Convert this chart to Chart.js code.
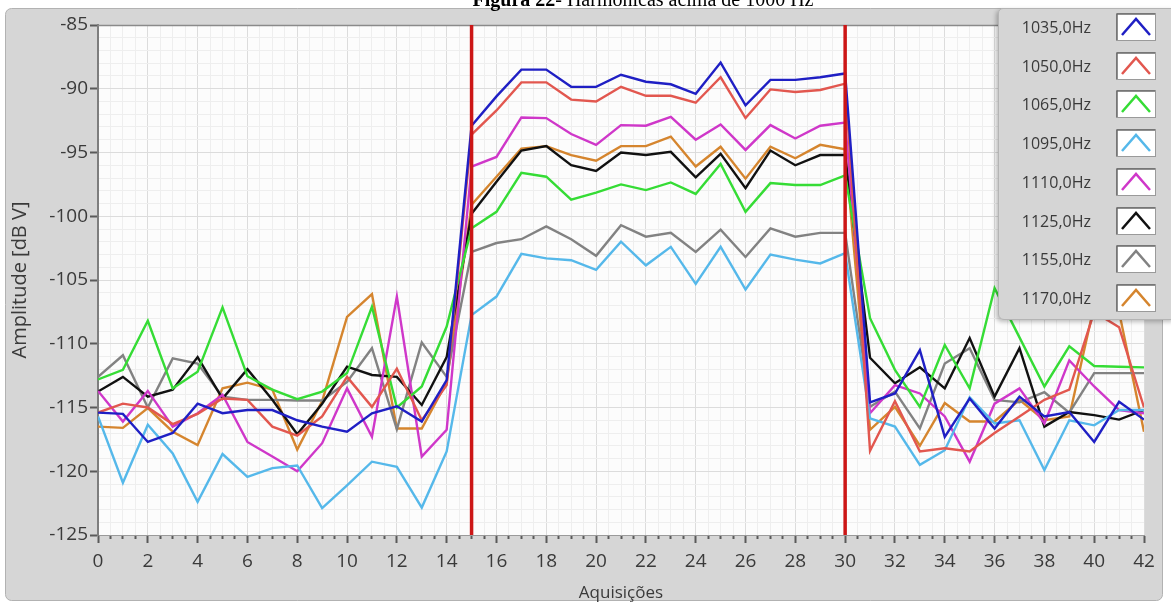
<!DOCTYPE html>
<html>
<head>
<meta charset="utf-8">
<script src="https://cdn.jsdelivr.net/npm/chart.js@4.4.1/dist/chart.umd.min.js"></script>
<style>
html,body{margin:0;padding:0;background:#fff;}
#wrap{position:relative;width:1171px;height:604px;overflow:hidden;}
#chart{position:absolute;left:0;top:0;}
#title{position:absolute;top:-11px;left:0;width:1286px;text-align:center;font-family:'Liberation Serif','Times New Roman',serif;font-size:20px;line-height:20px;color:#000;white-space:nowrap;z-index:3;}
#legend{position:absolute;left:998px;top:8px;width:175px;height:310px;background:#d5d5d5;border:1px solid #b4b4b4;border-radius:5px 0 0 6px;box-shadow:-2px 2px 4px rgba(0,0,0,0.25);z-index:2;}
.item{position:absolute;left:0;width:175px;height:28px;}
.item span{position:absolute;right:83px;top:3px;font-family:'Open Sans',sans-serif;font-size:16px;line-height:22px;color:#3a3a3a;}
.item svg{position:absolute;left:117px;top:0;}
</style>
</head>
<body>
<div id="wrap">
  <canvas id="chart" width="1171" height="604"></canvas>
  <div id="title"><b>Figura 22</b>- Harmônicas acima de 1000 Hz</div>
  <div id="legend"></div>
</div>
<script>
// ---- data ----
const acquisitions = [0,1,2,3,4,5,6,7,8,9,10,11,12,13,14,15,16,17,18,19,20,21,22,23,24,25,26,27,28,29,30,31,32,33,34,35,36,37,38,39,40,41,42];
const seriesNames = ['1035,0Hz','1050,0Hz','1065,0Hz','1095,0Hz','1110,0Hz','1125,0Hz','1155,0Hz','1170,0Hz'];
const seriesColors = ['#1f1fc4','#e2574f','#35dc35','#55b8ea','#cf37c9','#111111','#828282','#d5852e'];

const s1035 = [-115.4,-115.5,-117.7,-117.0,-114.7,-115.45,-115.2,-115.2,-116.0,-116.5,-116.9,-115.45,-114.9,-116.1,-112.85,
  -92.9,-90.6,-88.5,-88.5,-89.85,-89.85,-88.9,-89.45,-89.65,-90.4,-87.95,-91.3,-89.3,-89.3,-89.1,-88.8,
  -114.6,-113.9,-110.5,-117.3,-114.3,-116.65,-114.15,-115.7,-115.35,-117.7,-114.55,-115.95];
const s1050 = [-115.4,-114.7,-115.0,-116.3,-115.5,-114.3,-114.4,-116.5,-117.2,-115.7,-112.6,-114.95,-111.95,-116.0,-113.25,
  -93.6,-91.7,-89.5,-89.5,-90.85,-91.0,-89.85,-90.55,-90.55,-91.1,-89.1,-92.3,-90.05,-90.25,-90.1,-89.6,
  -118.4,-114.5,-118.45,-118.2,-118.45,-117.0,-115.7,-114.4,-113.6,-107.5,-108.7,-115.0];
const s1065 = [-112.8,-112.05,-108.2,-113.5,-112.2,-107.15,-112.55,-113.6,-114.35,-113.75,-112.3,-107.1,-115.0,-113.35,-108.65,
  -100.95,-99.65,-96.6,-96.9,-98.7,-98.15,-97.5,-97.95,-97.35,-98.25,-95.9,-99.65,-97.4,-97.55,-97.55,-96.8,
  -108.0,-112.05,-114.95,-110.1,-113.5,-105.65,-109.5,-113.35,-110.2,-111.75,-111.8,-111.85];
const s1095 = [-115.7,-120.9,-116.35,-118.6,-122.4,-118.65,-120.45,-119.75,-119.55,-122.9,-121.1,-119.25,-119.65,-122.85,-118.45,
  -107.75,-106.3,-102.95,-103.3,-103.45,-104.2,-102.0,-103.85,-102.4,-105.3,-102.4,-105.75,-103.0,-103.4,-103.7,-102.9,
  -115.85,-116.5,-119.5,-118.35,-114.2,-116.25,-116.0,-119.9,-116.0,-116.4,-115.2,-115.2];
const s1110 = [-113.7,-116.1,-113.7,-116.5,-115.45,-114.0,-117.7,-118.85,-120.0,-117.8,-113.5,-117.3,-106.3,-118.85,-116.75,
  -96.1,-95.35,-92.25,-92.3,-93.55,-94.4,-92.85,-92.9,-92.2,-94.0,-92.8,-94.8,-92.85,-93.9,-92.9,-92.65,
  -115.45,-113.25,-113.9,-115.7,-119.25,-114.7,-113.5,-116.25,-111.3,-113.35,-115.2,-115.45];
const s1125 = [-113.75,-112.6,-114.15,-113.6,-111.05,-114.3,-112.0,-114.4,-117.1,-114.7,-111.8,-112.45,-112.6,-114.8,-111.05,
  -99.8,-97.3,-94.85,-94.5,-96.0,-96.45,-95.0,-95.2,-94.95,-96.95,-95.1,-97.8,-94.85,-96.0,-95.2,-95.2,
  -111.1,-113.1,-111.85,-113.5,-109.55,-114.15,-110.35,-116.5,-115.35,-115.6,-115.95,-115.2];
const s1155 = [-112.6,-110.9,-115.0,-111.15,-111.55,-114.15,-114.4,-114.4,-114.45,-114.45,-113.0,-110.35,-116.7,-109.9,-112.6,
  -102.8,-102.1,-101.8,-100.8,-101.8,-103.1,-100.7,-101.6,-101.3,-102.8,-101.05,-103.2,-100.95,-101.6,-101.3,-101.3,
  -114.95,-113.75,-116.65,-111.55,-110.35,-114.4,-114.6,-113.8,-115.4,-112.3,-112.3,-112.3];
const s1170 = [-116.5,-116.6,-115.05,-116.9,-117.95,-113.5,-113.05,-113.6,-118.3,-114.5,-107.9,-106.1,-116.65,-116.65,-113.0,
  -99.1,-96.9,-94.7,-94.5,-95.2,-95.65,-94.5,-94.5,-93.75,-96.1,-94.55,-97.05,-94.55,-95.45,-94.4,-94.75,
  -116.75,-114.95,-118.0,-114.65,-116.1,-116.1,-114.4,-116.0,-115.7,-107.0,-107.5,-116.9];
const seriesValues = [s1035,s1050,s1065,s1095,s1110,s1125,s1155,s1170];

const markerPositions = [15, 30];
const yMin = -125, yMax = -85;
const xMin = 0, xMax = 42;
const xLabelStep = 2, yLabelStep = 5;

// ---- datasets ----
const datasets = [];
markerPositions.forEach(p => {
  datasets.push({
    data: [{x:p, y:yMin}, {x:p, y:yMax}],
    borderColor:'#cc1616', borderWidth:3.5, pointRadius:0, order:-1
  });
});
seriesValues.forEach((vals, i) => {
  datasets.push({
    label: seriesNames[i],
    data: acquisitions.map((a, k) => ({x:a, y:vals[k]})),
    borderColor: seriesColors[i], borderWidth: 2.4, pointRadius: 0, tension: 0, fill: false, order: 1
  });
});

const panelPlugin = {
  id:'panel',
  beforeDraw(chart){
    const c = chart.ctx, a = chart.chartArea;
    c.save();
    c.fillStyle = '#ffffff';
    c.fillRect(0,0,chart.width,chart.height);
    c.beginPath();
    c.roundRect(5.5, 8.5, 1157, 592, 6);
    c.fillStyle = '#d6d6d6';
    c.fill();
    c.strokeStyle = '#b2b2b2';
    c.lineWidth = 1;
    c.stroke();
    c.fillStyle = '#fcfcfc';
    c.fillRect(a.left, a.top, a.right - a.left, a.bottom - a.top);
    c.restore();
  },
  beforeDatasetsDraw(chart){
    const c = chart.ctx, a = chart.chartArea;
    c.save();
    c.strokeStyle = '#8a8a8a';
    c.lineWidth = 1.5;
    c.beginPath();
    c.moveTo(a.left, a.top + 0.5);
    c.lineTo(a.right, a.top + 0.5);
    c.stroke();
    c.restore();
  }
};

const isMajorX = v => Math.abs(v % xLabelStep) < 1e-9;
const isMajorY = v => Math.abs(v % yLabelStep) < 1e-9;

new Chart(document.getElementById('chart'), {
  type:'line',
  data:{datasets},
  plugins:[panelPlugin],
  options:{
    responsive:false,
    animation:false,
    devicePixelRatio:1,
    layout:{padding:{left:5, right:27, top:25, bottom:1}},
    plugins:{legend:{display:false}, tooltip:{enabled:false}},
    scales:{
      x:{
        type:'linear', min:xMin, max:xMax,
        afterFit(s){ s.height = 68; },
        ticks:{
          stepSize:0.5, autoSkip:false, maxRotation:0, maxTicksLimit:500,
          callback:v => isMajorX(v) ? String(v) : '',
          font:{family:'Open Sans', size:19}, color:'#3a3a3a', padding:7
        },
        grid:{
          color:ctx => (ctx.tick && isMajorX(ctx.tick.value)) ? '#dcdcdc' : '#eeeeee',
          lineWidth:1,
          tickLength:8,
          tickColor:'#5a5a5a',
          tickWidth:2,
          tickBorderDash:ctx => (ctx.tick && isMajorX(ctx.tick.value)) ? [] : [3, 30]
        },
        border:{display:true, color:'#9a9a9a', width:1},
        title:{display:true, text:'Aquisições', font:{family:'Open Sans', size:17}, color:'#3a3a3a', padding:{top:0, bottom:0}}
      },
      y:{
        type:'linear', min:yMin, max:yMax,
        afterFit(s){ s.width = 93; },
        ticks:{
          stepSize:1, autoSkip:false, maxTicksLimit:500,
          callback:v => isMajorY(v) ? String(v) : '',
          font:{family:'Open Sans', size:19}, color:'#3a3a3a', padding:2
        },
        grid:{
          color:ctx => (ctx.tick && isMajorY(ctx.tick.value)) ? '#dcdcdc' : '#eeeeee',
          lineWidth:1,
          tickLength:8,
          tickColor:ctx => (ctx.tick && isMajorY(ctx.tick.value)) ? '#5a5a5a' : 'rgba(0,0,0,0)',
          tickWidth:2
        },
        border:{display:true, color:'#7e7e7e', width:2},
        title:{display:true, text:'Amplitude [dB V]', font:{family:'Open Sans', size:20}, color:'#3a3a3a', padding:{top:3, bottom:0}}
      }
    }
  }
});

// ---- legend (HTML overlay, built from series arrays) ----
const legend = document.getElementById('legend');
seriesNames.forEach((name, i) => {
  const d = document.createElement('div');
  d.className = 'item';
  d.style.top = (4 + 38.7 * i) + 'px';
  d.innerHTML = '<span>' + name + '</span>' +
    '<svg width="40" height="28" xmlns="http://www.w3.org/2000/svg">' +
    '<rect x="0.5" y="0.5" width="39" height="27" fill="#ffffff" stroke="#9a9a9a"/>' +
    '<line x1="1" y1="1" x2="39" y2="1" stroke="#6a6a6a" stroke-width="1.5"/>' +
    '<line x1="1" y1="1" x2="1" y2="27" stroke="#6a6a6a" stroke-width="1.5"/>' +
    '<polyline points="6,22 20,6 34,22" fill="none" stroke="' + seriesColors[i] + '" stroke-width="2.5"/>' +
    '</svg>';
  legend.appendChild(d);
});
</script>
</body>
</html>
